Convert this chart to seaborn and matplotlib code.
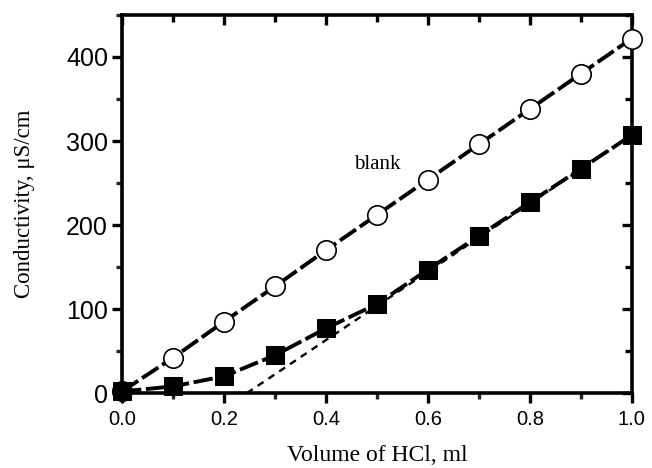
import matplotlib
matplotlib.use("Agg")
import matplotlib.pyplot as plt
import seaborn as sns
import numpy as np
from matplotlib.ticker import MultipleLocator, FormatStrFormatter

volume = [0.0, 0.1, 0.2, 0.3, 0.4, 0.5, 0.6, 0.7, 0.8, 0.9, 1.0]
blank = [2, 42, 85, 127, 170, 212, 254, 296, 338, 380, 422]
sample = [2, 8, 20, 45, 77, 106, 147, 187, 227, 267, 307]
fit_x = [0.245, 1.0]
fit_y = [0, 307]

sns.set_theme(style="ticks")
plt.rcParams['font.family'] = ['Liberation Sans', 'DejaVu Sans']
plt.rcParams['text.color'] = 'black'
plt.rcParams['axes.labelcolor'] = 'black'

fig = plt.figure(figsize=(6.52, 4.68), dpi=100)
ax = fig.add_axes([0.187, 0.160, 0.782, 0.808])

sns.lineplot(x=fit_x, y=fit_y, ax=ax, color='black', lw=1.7,
             linestyle=(0, (3, 2.5)), zorder=2)
sns.lineplot(x=volume, y=blank, ax=ax, color='black', lw=2.8,
             marker='o', markersize=14, markerfacecolor='white',
             markeredgecolor='black', markeredgewidth=1.2,
             linestyle=(0, (5, 1.2)), zorder=3, clip_on=False)
sns.lineplot(x=volume, y=sample, ax=ax, color='black', lw=2.8,
             marker='s', markersize=12.5, markerfacecolor='black',
             markeredgecolor='black',
             linestyle=(0, (5, 1.2)), zorder=3, clip_on=False)

ax.set_xlim(0, 1.0)
ax.set_ylim(0, 450)

ax.xaxis.set_major_locator(MultipleLocator(0.2))
ax.xaxis.set_minor_locator(MultipleLocator(0.1))
ax.yaxis.set_major_locator(MultipleLocator(100))
ax.yaxis.set_minor_locator(MultipleLocator(50))
ax.xaxis.set_major_formatter(FormatStrFormatter('%.1f'))

for s in ax.spines.values():
    s.set_linewidth(2.6)
    s.set_color('black')
    s.set_visible(True)

ax.tick_params(axis='both', which='major', direction='out', length=7, width=2.4,
               colors='black', pad=3)
ax.tick_params(axis='both', which='minor', direction='out', length=4, width=2.4)
ax.tick_params(axis='x', which='major', labelsize=14.5, pad=5.5)
ax.tick_params(axis='y', which='major', labelsize=18)

# inward ticks on top and right
axt = ax.twiny()
axr = ax.twinx()
axt.set_xlim(ax.get_xlim())
axr.set_ylim(ax.get_ylim())
axt.xaxis.set_major_locator(MultipleLocator(0.2))
axt.xaxis.set_minor_locator(MultipleLocator(0.1))
axr.yaxis.set_major_locator(MultipleLocator(100))
axr.yaxis.set_minor_locator(MultipleLocator(50))
axt.tick_params(axis='x', which='major', direction='in', length=7, width=2.4, labeltop=False, colors='black')
axt.tick_params(axis='x', which='minor', direction='in', length=5, width=2.4, colors='black')
axr.tick_params(axis='y', which='major', direction='in', length=7, width=2.4, labelright=False, colors='black')
axr.tick_params(axis='y', which='minor', direction='in', length=5, width=2.4, colors='black')
for a in (axt, axr):
    for s in a.spines.values():
        s.set_visible(False)

ax.set_xlabel('Volume of HCl, ml', family=['Liberation Serif'], fontsize=17, labelpad=11)
ax.set_ylabel('Conductivity, \u03bcS/cm', family=['Liberation Serif'], fontsize=16.5, labelpad=22)

ax.text(0.5, 272, 'blank', family=['Liberation Serif'], fontsize=15,
        ha='center', va='center', color='black')

fig.savefig('out.png', dpi=100)
